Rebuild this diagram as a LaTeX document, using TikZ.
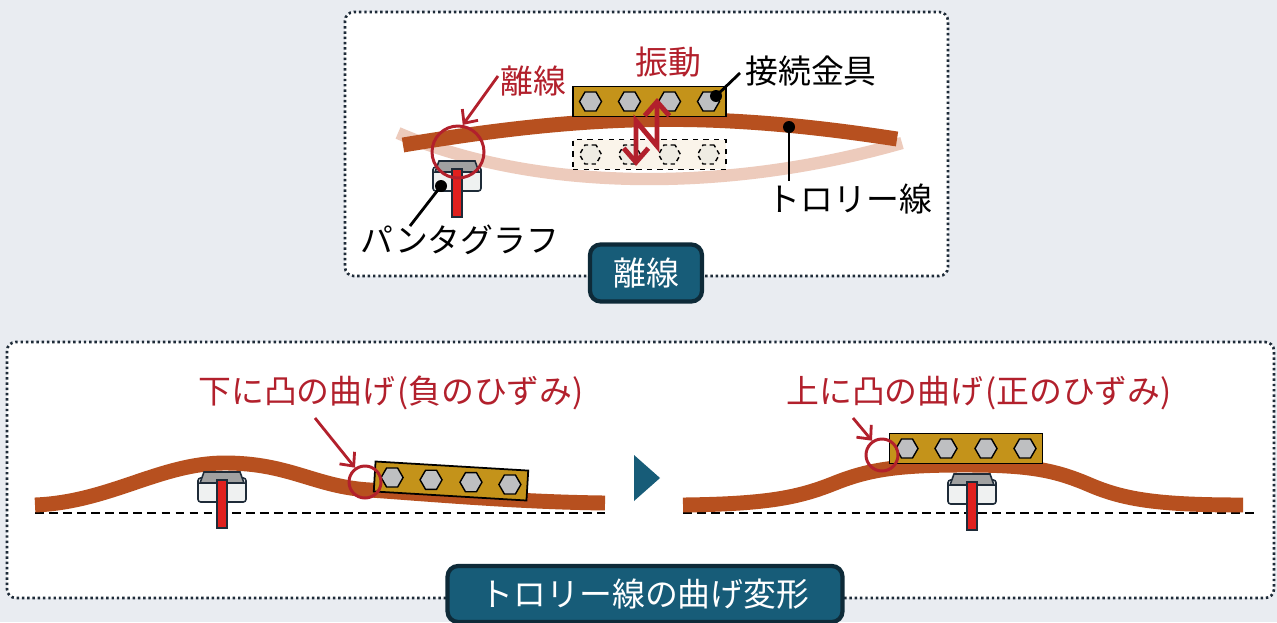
\documentclass[tikz,border=0pt]{standalone}
\usepackage{fontspec}
\setmainfont{Noto Sans CJK JP}
\usetikzlibrary{arrows.meta,shapes.geometric}

\definecolor{pagebg}{HTML}{E9ECF1}
\definecolor{frameline}{HTML}{1E2B38}
\definecolor{wirebrown}{HTML}{B7501F}
\definecolor{wireghost}{HTML}{EDCBBC}
\definecolor{brass}{HTML}{C4931A}
\definecolor{boltgray}{HTML}{BEBFC1}
\definecolor{ghostfill}{HTML}{FAF4EA}
\definecolor{ghostbolt}{HTML}{EFECE3}
\definecolor{alertred}{HTML}{B2202C}
\definecolor{tagblue}{HTML}{175C78}
\definecolor{tagedge}{HTML}{0E2A38}
\definecolor{stemred}{HTML}{E0201E}
\definecolor{shoegray}{HTML}{A0A1A1}
\definecolor{boxwhite}{HTML}{EFF1F1}

\tikzset{
  panel/.style={fill=white, draw=frameline, line width=1.5pt,
    dash pattern=on 1.4pt off 1.6pt, rounded corners=5pt},
  tag/.style={fill=tagblue, draw=tagedge, line width=2.4pt, rounded corners=6pt,
    text=white, font=\fontsize{18.7}{22}\selectfont, inner sep=0pt},
  wire/.style={draw=wirebrown, line width=8.5pt},
  oldwire/.style={draw=wireghost, line width=7pt},
  fitting/.style={draw=black, fill=brass, line width=1pt,
    minimum width=3.06cm, minimum height=0.6cm, inner sep=0pt},
  oldfitting/.style={fitting, fill=ghostfill, dashed, line width=0.8pt},
  bolt/.style={regular polygon, regular polygon sides=6, draw=black, fill=boltgray,
    line width=0.8pt, minimum size=0.44cm, inner sep=0pt},
  oldbolt/.style={bolt, fill=ghostbolt, dashed, dash pattern=on 2.5pt off 2pt},
  ring/.style={circle, draw=alertred, line width=1.7pt, inner sep=0pt},
  lbl/.style={font=\fontsize{18.7}{22}\selectfont, inner sep=0pt},
  redlbl/.style={lbl, text=alertred},
  dot/.style={circle, fill=black, minimum size=0.24cm, inner sep=0pt},
  pointer/.style={line width=1.6pt},
  callout/.style={draw=alertred, line width=1.6pt,
    -{Straight Barb[length=6pt,width=11pt]}},
  vibration/.style={draw=alertred, line width=2.8pt,
    {Straight Barb[length=8pt,width=14pt]}-{Straight Barb[length=8pt,width=14pt]}},
  groundline/.style={line width=0.9pt, dash pattern=on 5pt off 3pt},
  pantobox/.style={draw=frameline, fill=boxwhite, line width=0.9pt, rounded corners=1.5pt},
  pantoshoe/.style={draw=frameline, fill=shoegray, line width=0.9pt},
  pantostem/.style={draw=frameline, fill=stemred, line width=0.8pt}
}

% pantograph head: #1 = x of the stem, #2 = top of the box
\newcommand{\pantograph}[2]{%
  \begin{scope}[shift={(#1,#2)}]
    \draw[pantobox] (-24,0) rectangle (24,24);
    \draw[pantoshoe] (-18,-6) -- (18,-6) -- (22,5) -- (-22,5) -- cycle;
    \draw[pantostem] (-5,2) rectangle (5,50);
  \end{scope}}

\begin{document}
\begin{tikzpicture}[x=0.02cm, y=-0.02cm, line cap=butt]
  \fill[pagebg] (0,0) rectangle (1277,622);
  \useasboundingbox (0,0) rectangle (1277,622);

  % --- upper panel: separation ---
  \draw[panel] (345,12) rectangle (948,276);

  \draw[oldwire] (398,133) .. controls (530,190) and (720,195) .. (902,143);
  \node[oldfitting] (fitOld) at (649.5,154.5) {};
  \foreach \k/\dx in {1/-59,2/-20,3/20,4/59}
    \node[oldbolt] (boltOld\k) at (649.5+\dx,154.5) {};

  \draw[wire] (403,145) .. controls (600,112) and (720,112) .. (897,139);
  \node[fitting] (fitTop) at (649.5,101.5) {};
  \foreach \k/\dx in {1/-59,2/-20,3/20,4/59}
    \node[bolt] (boltTop\k) at (649.5+\dx,101.5) {};

  \draw[vibration] (636,166) -- (636,121) -- (657,146) -- (657,98);

  \pantograph{457}{167}
  \node[ring, minimum size=1.04cm] (ringTop) at (458,152) {};

  \node[redlbl] (lblSep) at (533,81) {離線};
  \node[redlbl] (lblVib) at (668,62) {振動};
  \coordinate (fromSep) at (498,76);
  \draw[callout] (fromSep) -- (ringTop.80);

  \node[dot] (dotP) at (441,186) {};
  \coordinate (tipP) at (410,226);
  \draw[pointer] (dotP.center) -- (tipP);
  \node[lbl] (lblPanto) at (460,240) {パンタグラフ};

  \node[dot] (dotF) at (716,96) {};
  \coordinate (tipF) at (740,73);
  \draw[pointer] (dotF.center) -- (tipF);
  \node[lbl] (lblFit) at (811,71) {接続金具};

  \node[dot] (dotW) at (789,127) {};
  \coordinate (tipW) at (789,181);
  \draw[pointer] (dotW.center) -- (tipW);
  \node[lbl] (lblWire) at (850,199) {トロリー線};

  \node[tag, minimum width=2.24cm, minimum height=1.14cm] (tagTop) at (646,273) {離線};

  % --- lower panel: bending of the wire ---
  \draw[panel] (7,342) rectangle (1274,598);

  % convex downward
  \draw[groundline] (35,513) -- (605,513);
  \draw[wire] (35,505) .. controls (110,502) and (160,463) .. (225,463)
    .. controls (290,463) and (315,487) .. (370,490)
    .. controls (440,495) and (520,502) .. (605,503);
  \pantograph{222}{478}
  \begin{scope}[shift={(451,481)}, rotate=-3.4]
    \node[fitting, rotate=-3.4] (fitL) at (0,0) {};
    \foreach \k/\dx in {1/-59,2/-20,3/20,4/59}
      \node[bolt] (boltL\k) at (\dx,0) {};
  \end{scope}
  \node[ring, minimum size=0.64cm] (ringL) at (365,482) {};
  \node[redlbl] (lblNeg) at (391,393) {下に凸の曲げ\kern1pt(負のひずみ)};
  \coordinate (fromNeg) at (315,418);
  \draw[callout] (fromNeg) -- (ringL.125);

  \fill[tagblue] (634,455) -- (660,478) -- (634,501) -- cycle;

  % convex upward
  \draw[groundline] (683,513) -- (1258,513);
  \draw[wire] (683,505) .. controls (770,504) and (800,497) .. (835,483)
    .. controls (870,469) and (900,465) .. (965,465)
    .. controls (1030,465) and (1055,470) .. (1090,485)
    .. controls (1125,500) and (1160,505) .. (1243,505);
  \pantograph{972}{480}
  \node[fitting] (fitR) at (966,448.5) {};
  \foreach \k/\dx in {1/-59,2/-20,3/20,4/59}
    \node[bolt] (boltR\k) at (966+\dx,448.5) {};
  \node[ring, minimum size=0.64cm] (ringR) at (882,455) {};
  \node[redlbl] (lblPos) at (979,393) {上に凸の曲げ\kern1pt(正のひずみ)};
  \coordinate (fromPos) at (853,418);
  \draw[callout] (fromPos) -- (ringR.125);

  \node[tag, minimum width=7.9cm, minimum height=1.12cm] (tagBottom) at (645,594) {トロリー線の曲げ変形};
\end{tikzpicture}
\end{document}
